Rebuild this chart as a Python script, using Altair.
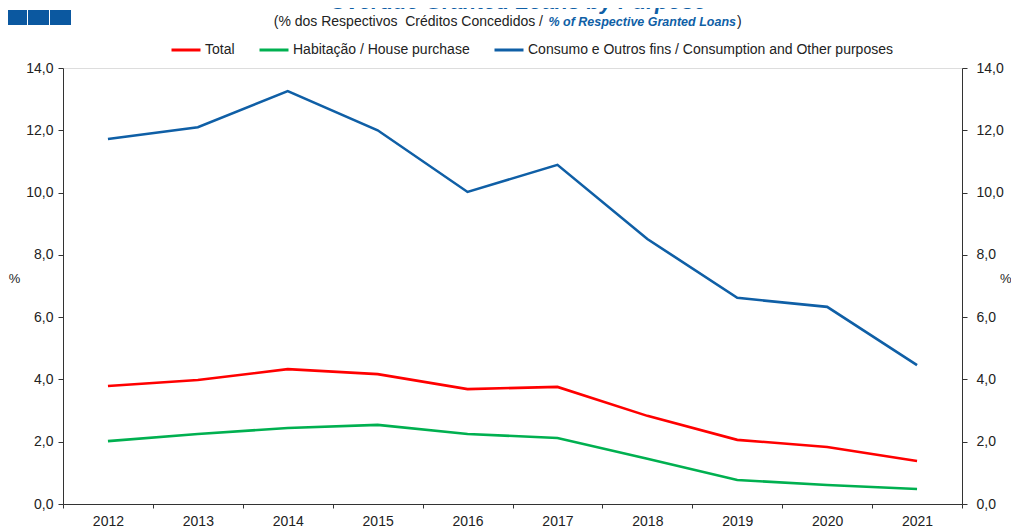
import altair as alt
import pandas as pd

years = ["2012", "2013", "2014", "2015", "2016", "2017", "2018", "2019", "2020", "2021"]
total = [3.79, 3.98, 4.33, 4.17, 3.69, 3.76, 2.83, 2.06, 1.83, 1.38]
housing = [2.02, 2.25, 2.44, 2.54, 2.25, 2.12, 1.45, 0.77, 0.61, 0.48]
consumption = [11.72, 12.10, 13.26, 12.00, 10.02, 10.89, 8.51, 6.62, 6.33, 4.46]
series_names = ["Total", "Habitação / House purchase",
                "Consumo e Outros fins / Consumption and Other purposes"]
series_colors = ["#ff0000", "#00b050", "#0f5fa6"]
y_ticks = [0, 2, 4, 6, 8, 10, 12, 14]

title_text = "Overdue Granted Loans by Purpose"
sub_part1 = "(% dos Respectivos\u00a0 Créditos Concedidos /"
sub_part2 = "% of Respective Granted Loans"
sub_part3 = ")"

rows = []
for name, vals in zip(series_names, [total, housing, consumption]):
    for yr, v in zip(years, vals):
        rows.append({"year": yr, "value": v, "series": name})
df = pd.DataFrame(rows)

W, H = 899, 436
FONT = "Liberation Sans"
AX = "#333333"
label_expr = "replace(format(datum.value, '.1f'), '.', ',')"

x_enc = alt.X(
    "year:N",
    sort=years,
    scale=alt.Scale(type="band", paddingInner=0, paddingOuter=0),
    axis=alt.Axis(title=None, tickBand="extent", labelAngle=0, tickSize=4,
                  labelPadding=6, labelFontSize=14, labelColor="#222222",
                  domainColor=AX, tickColor=AX, labelFont=FONT),
)

lines = alt.Chart(df).mark_line(strokeWidth=2.6).encode(
    x=x_enc,
    y=alt.Y("value:Q", scale=alt.Scale(domain=[0, 14], nice=False),
            axis=alt.Axis(orient="left", values=y_ticks, labelExpr=label_expr,
                          title="%", titleAngle=0, titleX=-49, titleY=210,
                          titleAlign="center", titleBaseline="middle",
                          titleFontWeight="normal", titleFontSize=13,
                          titleColor="#222222", titleFont=FONT,
                          tickSize=5, labelPadding=5, labelFontSize=14,
                          labelColor="#222222", labelFont=FONT,
                          domainColor=AX, tickColor=AX, grid=False)),
    color=alt.Color("series:N", sort=series_names,
                    scale=alt.Scale(domain=series_names, range=series_colors),
                    legend=alt.Legend(title=None, orient="none", direction="horizontal",
                                      legendX=107, legendY=-34,
                                      symbolType="stroke", symbolSize=841,
                                      symbolStrokeWidth=3, labelFontSize=14,
                                      labelFont=FONT, labelColor="#222222",
                                      labelLimit=0,
                                      labelOffset=3, columnPadding=18)),
    order=alt.Order("year:N"),
)

right = alt.Chart(df).mark_line(opacity=0).encode(
    x=alt.X("year:N", sort=years, scale=alt.Scale(type="band", paddingInner=0, paddingOuter=0)),
    y=alt.Y("value:Q", scale=alt.Scale(domain=[0, 14], nice=False),
            axis=alt.Axis(orient="right", values=y_ticks, labelExpr=label_expr,
                          title="%", titleAngle=0, titleX=49, titleY=210,
                          titleAlign="right", titleBaseline="middle",
                          titleFontWeight="normal", titleFontSize=13,
                          titleColor="#222222", titleFont=FONT,
                          tickSize=5, labelPadding=9, labelFontSize=14,
                          labelColor="#222222", labelFont=FONT,
                          domainColor=AX, tickColor=AX, grid=False)),
    detail="series:N",
)

one = pd.DataFrame({"k": [0]})

title = alt.Chart(one).mark_text(
    text=title_text, font=FONT, fontSize=22, fontWeight="bold", fontStyle="italic",
    color="#0f5fa6", align="center", baseline="alphabetic",
).encode(x=alt.value(455), y=alt.value(-59))

sub1 = alt.Chart(one).mark_text(
    text=sub_part1, font=FONT, fontSize=14, color="#222222", align="right",
    baseline="middle",
).encode(x=alt.value(480), y=alt.value(-46))

sub2 = alt.Chart(one).mark_text(
    text=sub_part2, font=FONT, fontSize=12.5, fontWeight="bold", fontStyle="italic",
    color="#0f5fa6", align="right", baseline="middle",
).encode(x=alt.value(673), y=alt.value(-46))

sub3 = alt.Chart(one).mark_text(
    text=sub_part3, font=FONT, fontSize=14, color="#222222", align="left",
    baseline="middle",
).encode(x=alt.value(674), y=alt.value(-46))

squares = []
for x0 in [-57, -35, -13]:
    squares.append(
        alt.Chart(one).mark_rect(color="#0b58a0").encode(
            x=alt.value(x0), x2=alt.value(x0 + 21),
            y=alt.value(-58), y2=alt.value(-43))
    )

chart = alt.layer(lines, right, title, sub1, sub2, sub3, *squares).resolve_scale(
    y="independent"
).properties(
    width=W, height=H,
    autosize=alt.AutoSizeParams(type="none"),
    padding={"left": 55, "top": 60, "right": 49, "bottom": 23},
).configure_view(stroke=None).configure(font=FONT)

chart.save("out.html", embed_options={"renderer": "svg", "actions": False})
